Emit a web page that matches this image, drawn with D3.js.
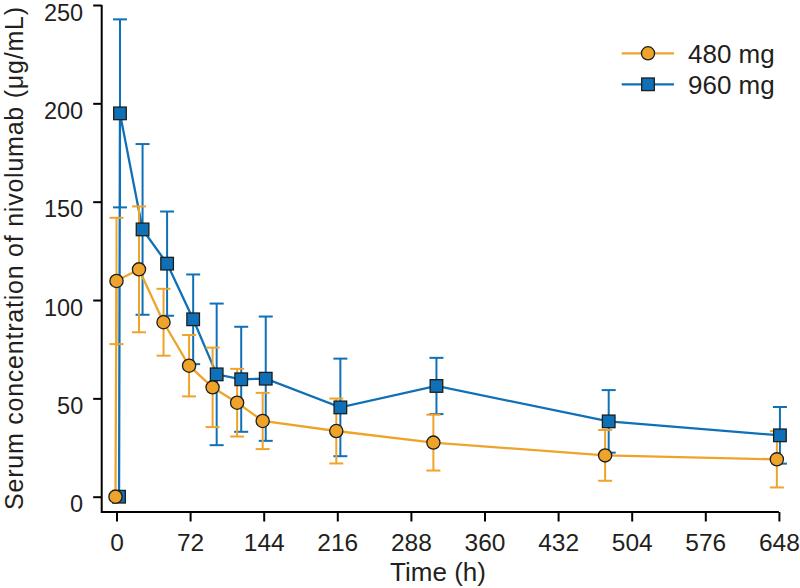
<!DOCTYPE html>
<html>
<head>
<meta charset="utf-8">
<script src="https://cdn.jsdelivr.net/npm/d3@7"></script>
<style>
  body { margin: 0; background: #fff; }
  svg text { font-family: "Liberation Sans", Arial, Helvetica, sans-serif; fill: #231f20; }
</style>
</head>
<body>
<div id="chart"></div>
<script>
// time points (h), slightly offset per dose group as in the figure
const times480 = [-1, 0, 22, 46, 71, 94, 118, 143, 215, 310, 478, 646];
const times960 = [2.5, 3.4, 25.5, 49.5, 75, 98, 122, 146, 219, 313, 481.5, 649];

// mean serum concentration (μg/mL) and SD
const mean480 = [0, 109.7, 115.6, 88.7, 66.6, 55.6, 47.8, 38.5, 33.4, 27.5, 21.0, 19.0];
const sd480   = [0, 32.1, 32.0, 17.0, 15.6, 20.2, 17.2, 14.3, 16.5, 14.2, 12.9, 14.3];
const mean960 = [0, 194.9, 135.9, 118.5, 90.2, 62.2, 59.7, 60.0, 45.4, 56.3, 38.3, 31.2];
const sd960   = [0, 47.8, 43.4, 26.5, 22.8, 36.0, 26.7, 31.6, 24.8, 14.3, 15.9, 14.4];

const xTicks = [0, 72, 144, 216, 288, 360, 432, 504, 576, 648];
const yTicks = [0, 50, 100, 150, 200, 250];
const seriesNames = ["480 mg", "960 mg"];

const width = 800, height = 588;
const orange = "#eea42b", blue = "#0f70b7", edge = "#1d1d1b";

const svg = d3.select("#chart").append("svg")
    .attr("width", width)
    .attr("height", height);

const x = d3.scaleLinear().domain([0, 648]).range([116.5, 778.9]);
const y = d3.scaleLinear().domain([0, 250]).range([496.7, 5]);

const axisX = 101.7, axisY = 512;

// axes
const gy = svg.append("g")
    .attr("transform", `translate(${axisX},0)`)
    .call(d3.axisLeft(y).tickValues(yTicks).tickSize(8.5).tickPadding(10));
gy.select(".domain").remove();
gy.selectAll(".tick line").attr("stroke", "#000").attr("stroke-width", 2);
// labels hang just below their tick, as in the original
gy.selectAll(".tick text")
    .style("font-size", "23.5px")
    .attr("dy", "0.64em")
    .attr("fill", "#231f20");

const gx = svg.append("g")
    .attr("transform", `translate(0,${axisY})`)
    .call(d3.axisBottom(x).tickValues(xTicks).tickSize(9.5).tickPadding(12));
gx.select(".domain").remove();
gx.selectAll(".tick line").attr("stroke", "#000").attr("stroke-width", 2);
gx.selectAll(".tick text").style("font-size", "24.5px").attr("fill", "#231f20");

svg.append("path")
    .attr("d", `M${axisX},${y(250)}V${axisY}H${x(648)}`)
    .attr("fill", "none")
    .attr("stroke", "#000")
    .attr("stroke-width", 2);

svg.append("text")
    .attr("x", 438)
    .attr("y", 581)
    .attr("text-anchor", "middle")
    .style("font-size", "26px")
    .text("Time (h)");

svg.append("text")
    .attr("transform", "translate(23,258.5) rotate(-90)")
    .attr("text-anchor", "middle")
    .attr("textLength", 503)
    .style("font-size", "25px")
    .text("Serum concentration of nivolumab (μg/mL)");

// series
const makeData = (t, m, s) => t.map((d, i) => ({t: d, m: m[i], s: s[i]}));
const series = [
    {name: seriesNames[1], color: blue, shape: "square", data: makeData(times960, mean960, sd960)},
    {name: seriesNames[0], color: orange, shape: "circle", data: makeData(times480, mean480, sd480)}
];

const line = d3.line().x(d => x(d.t)).y(d => y(d.m));
const cap = 7;

series.forEach(s => {
    const g = svg.append("g");
    const bars = g.selectAll(".err").data(s.data.filter(d => d.s > 0)).enter().append("g")
        .attr("stroke", s.color).attr("stroke-width", 2);
    bars.append("line")
        .attr("x1", d => x(d.t)).attr("x2", d => x(d.t))
        .attr("y1", d => y(d.m + d.s)).attr("y2", d => y(d.m - d.s));
    bars.append("line")
        .attr("x1", d => x(d.t) - cap).attr("x2", d => x(d.t) + cap)
        .attr("y1", d => y(d.m + d.s)).attr("y2", d => y(d.m + d.s));
    bars.append("line")
        .attr("x1", d => x(d.t) - cap).attr("x2", d => x(d.t) + cap)
        .attr("y1", d => y(d.m - d.s)).attr("y2", d => y(d.m - d.s));

    g.append("path")
        .datum(s.data)
        .attr("d", line)
        .attr("fill", "none")
        .attr("stroke", s.color)
        .attr("stroke-width", 2.3);
});

series.forEach(s => {
    const g = svg.append("g");
    if (s.shape === "circle") {
        g.selectAll("circle").data(s.data).enter().append("circle")
            .attr("cx", d => x(d.t)).attr("cy", d => y(d.m)).attr("r", 6.6)
            .attr("fill", s.color).attr("stroke", edge).attr("stroke-width", 1.3);
    } else {
        g.selectAll("rect").data(s.data).enter().append("rect")
            .attr("x", d => x(d.t) - 6.3).attr("y", d => y(d.m) - 6.3)
            .attr("width", 12.6).attr("height", 12.6)
            .attr("fill", s.color).attr("stroke", edge).attr("stroke-width", 1.3);
    }
});

// legend
const legendRows = [
    {name: seriesNames[0], color: orange, shape: "circle", y: 53.3},
    {name: seriesNames[1], color: blue, shape: "square", y: 84.3}
];
const lg = svg.append("g");
legendRows.forEach(r => {
    lg.append("line")
        .attr("x1", 621.7).attr("x2", 674).attr("y1", r.y).attr("y2", r.y)
        .attr("stroke", r.color).attr("stroke-width", 2.3);
    if (r.shape === "circle") {
        lg.append("circle").attr("cx", 648).attr("cy", r.y).attr("r", 6.6)
            .attr("fill", r.color).attr("stroke", edge).attr("stroke-width", 1.3);
    } else {
        lg.append("rect").attr("x", 648 - 6.3).attr("y", r.y - 6.3)
            .attr("width", 12.6).attr("height", 12.6)
            .attr("fill", r.color).attr("stroke", edge).attr("stroke-width", 1.3);
    }
    lg.append("text")
        .attr("x", 688).attr("y", r.y)
        .attr("dy", "0.36em")
        .style("font-size", "26px")
        .text(r.name);
});
</script>
</body>
</html>
